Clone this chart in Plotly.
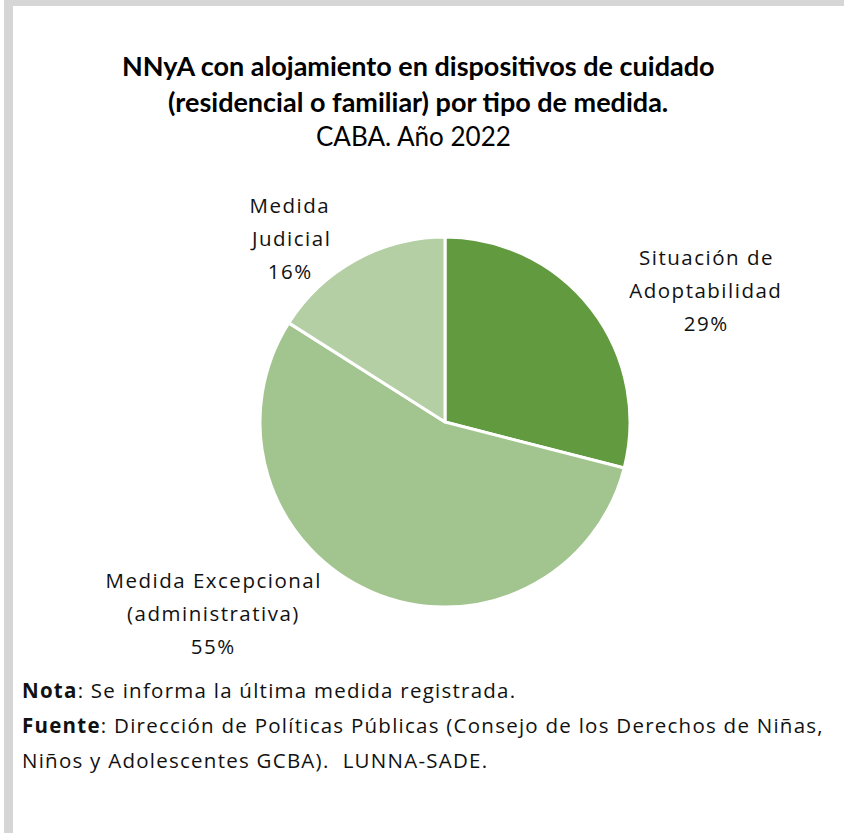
import plotly.graph_objects as go

categories = ["Situación de Adoptabilidad", "Medida Excepcional (administrativa)", "Medida Judicial"]
values = [29, 55, 16]
label_lines = [["Situación de", "Adoptabilidad", "29%"],
               ["Medida Excepcional", "(administrativa)", "55%"],
               ["Medida", "Judicial", "16%"]]
colors = ["#629A3F", "#A2C48F", "#B4CFA4"]
title_lines = ["<b>NNyA con alojamiento en dispositivos de cuidado</b>",
               "<b>(residencial o familiar) por tipo de medida.</b>"]
subtitle = "CABA. Año 2022"
notes = ["<b>Nota</b>: Se informa la última medida registrada.",
         "<b>Fuente</b>: Dirección de Políticas Públicas (Consejo de los Derechos de Niñas,",
         "Niños y Adolescentes GCBA).  LUNNA-SADE."]

W, H = 844, 833

fig = go.Figure(go.Pie(
    labels=categories, values=values, sort=False, direction="clockwise", rotation=0,
    marker=dict(colors=colors, line=dict(color="white", width=3)),
    textinfo="none", hoverinfo="label+percent", showlegend=False,
    domain=dict(x=[260 / W, 630 / W], y=[1 - 607 / H, 1 - 237 / H]),
))


def px(x):
    return x / W


def py(y):
    return 1 - y / H


ann = []
title_font = dict(family="Lato", size=27, color="black")
ann.append(dict(x=px(418), y=py(65), text=title_lines[0], font=title_font, name="title"))
ann.append(dict(x=px(418), y=py(101), text=title_lines[1], font=title_font, name="title"))
ann.append(dict(x=px(413), y=py(136), text=subtitle, font=dict(family="Lato", size=26, color="black"), name="title"))

label_pos = [(706, 257), (213, 580), (290, 205)]
for (x, y), lines in zip(label_pos, label_lines):
    for k, t in enumerate(lines):
        ann.append(dict(x=px(x), y=py(y + 33 * k), text=t,
                        font=dict(family="Open Sans", size=20.5, color="#111111"), name="label"))

note_font = dict(family="Open Sans", size=20.5, color="#111111")
for i, t in enumerate(notes):
    ann.append(dict(x=px(20), y=py(690 + i * 35), text=t, font=note_font, xanchor="left",
                    align="left", name="note"))

for a in ann:
    a.setdefault("xanchor", "center")
    a.setdefault("align", "center")
    a.update(xref="paper", yref="paper", yanchor="middle", showarrow=False)

spacing = []
for a in ann:
    spacing.append({"title": 0, "label": 1.5, "note": 1.25}[a["name"]])

shapes = [
    dict(type="rect", xref="paper", yref="paper", x0=px(4), x1=px(13), y0=0, y1=1,
         fillcolor="#D6D6D6", line=dict(width=0), layer="above"),
    dict(type="rect", xref="paper", yref="paper", x0=px(4), x1=1, y0=py(6), y1=1,
         fillcolor="#D6D6D6", line=dict(width=0), layer="above"),
]

fig.update_layout(
    width=W, height=H, margin=dict(l=0, r=0, t=0, b=0),
    paper_bgcolor="white", plot_bgcolor="white",
    annotations=ann, shapes=shapes,
)

post = """
document.body.style.margin='0';
document.body.style.overflow='hidden';
var sp = %s;
var gd = document.getElementById('{plot_id}');
gd.querySelectorAll('g.annotation').forEach(function(g){
  var i = parseInt(g.getAttribute('data-index'));
  var t = g.querySelector('text.annotation-text');
  if (t && sp[i]) { t.style.letterSpacing = sp[i] + 'px'; }
});
""" % str(spacing)

fig.write_html("out.html", post_script=post, config={"displayModeBar": False})
